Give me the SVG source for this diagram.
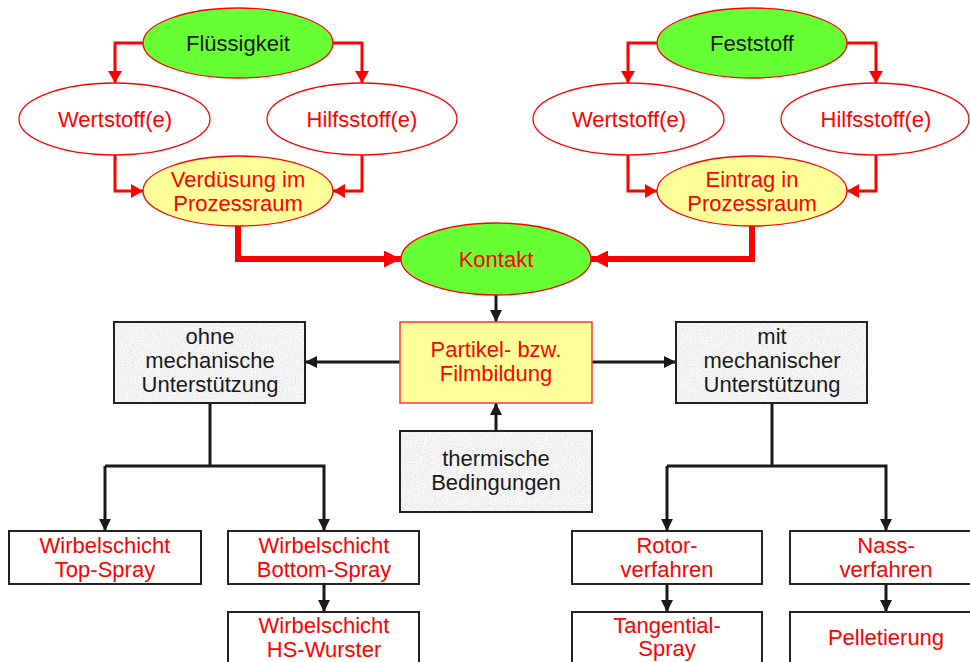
<svg xmlns="http://www.w3.org/2000/svg" width="970" height="662" viewBox="0 0 970 662">
  <style>
    text { font-family: "Liberation Sans", Arial, sans-serif; font-size: 22px; text-anchor: middle; }
    .red { fill: #ff0000; }
    .dark { fill: #1a1a1a; }
    .green { fill: #66ff33; stroke: #ff0000; stroke-width: 1.3; }
    .white { fill: #ffffff; stroke: #ff0000; stroke-width: 1.3; }
    .yellow { fill: #ffff99; stroke: #ff0000; stroke-width: 1.3; }
    .ybox { fill: #ffff99; stroke: #ff3333; stroke-width: 1.5; }
    .wbox { fill: #ffffff; stroke: #222222; stroke-width: 2; }
    .gbox { fill: #e6e6e6; filter: url(#granite); }
    .gedge { fill: none; stroke: #222222; stroke-width: 2; }
    .rl { fill: none; stroke: #ff0000; stroke-width: 3; marker-end: url(#arRed); }
    .rt { fill: none; stroke: #ff0000; stroke-width: 6; marker-end: url(#arRedBig); }
    .bl { fill: none; stroke: #1a1a1a; stroke-width: 3; }
    .ba { marker-end: url(#arBlack); }
  </style>
  <defs>
    <filter id="granite" x="0" y="0" width="100%" height="100%">
      <feTurbulence type="fractalNoise" baseFrequency="0.9" numOctaves="3" seed="4" result="n"/>
      <feColorMatrix in="n" type="matrix" values="0.35 0 0 0 0.72  0.35 0 0 0 0.72  0.35 0 0 0 0.72  0 0 0 0 1" result="g"/>
      <feComposite in="g" in2="SourceGraphic" operator="in"/>
    </filter>
    <marker id="arRed" markerUnits="userSpaceOnUse" markerWidth="12" markerHeight="14" refX="12" refY="7" orient="auto">
      <path d="M0,0 L12,7 L0,14 z" fill="#ff0000"/>
    </marker>
    <marker id="arRedBig" markerUnits="userSpaceOnUse" markerWidth="17" markerHeight="17" refX="17" refY="8.5" orient="auto">
      <path d="M0,0 L17,8.5 L0,17 z" fill="#ff0000"/>
    </marker>
    <marker id="arBlack" markerUnits="userSpaceOnUse" markerWidth="12" markerHeight="12" refX="12" refY="6" orient="auto">
      <path d="M0,0 L12,6 L0,12 z" fill="#1a1a1a"/>
    </marker>
  </defs>

  <!-- connectors -->
  <g id="connectors">
    <!-- liquid branch -->
    <path class="rl" d="M143,43 H115 V83"/>
    <path class="rl" d="M333,43 H362 V83"/>
    <path class="rl" d="M115,155 V191 H143"/>
    <path class="rl" d="M362,155 V191 H333"/>
    <!-- solid branch -->
    <path class="rl" d="M657,43 H628 V83"/>
    <path class="rl" d="M847,43 H876 V83"/>
    <path class="rl" d="M628,155 V191 H657"/>
    <path class="rl" d="M876,155 V191 H847"/>
    <!-- into contact -->
    <path class="rt" d="M238,226 V259 H401"/>
    <path class="rt" d="M752,226 V259 H591"/>
    <!-- black tree -->
    <path class="bl ba" d="M496,295 V322"/>
    <path class="bl ba" d="M400,362 H305"/>
    <path class="bl ba" d="M592,362 H676"/>
    <path class="bl ba" d="M496,431 V403"/>
    <path class="bl" d="M210,403 V466"/>
    <path class="bl ba" d="M105,466 H324 V531"/>
    <path class="bl ba" d="M105,466 V531"/>
    <path class="bl ba" d="M324,584 V612"/>
    <path class="bl" d="M772,403 V466"/>
    <path class="bl ba" d="M667,466 H886 V531"/>
    <path class="bl ba" d="M667,466 V531"/>
    <path class="bl ba" d="M667,584 V612"/>
    <path class="bl ba" d="M886,584 V612"/>
  </g>

  <!-- top left cluster -->
  <g id="fluessigkeit">
    <ellipse class="green" cx="238" cy="43" rx="95" ry="35"/>
    <text class="dark" x="238" y="51">Flüssigkeit</text>
  </g>
  <g id="wertstoff-l">
    <ellipse class="white" cx="114.5" cy="119" rx="95.5" ry="36"/>
    <text class="red" x="115" y="127">Wertstoff(e)</text>
  </g>
  <g id="hilfsstoff-l">
    <ellipse class="white" cx="362" cy="119" rx="95" ry="36"/>
    <text class="red" x="362" y="127">Hilfsstoff(e)</text>
  </g>
  <g id="verduesung">
    <ellipse class="yellow" cx="238" cy="191" rx="95" ry="35"/>
    <text class="red" x="238" y="187">Verdüsung im</text>
    <text class="red" x="238" y="211">Prozessraum</text>
  </g>

  <!-- top right cluster -->
  <g id="feststoff">
    <ellipse class="green" cx="752" cy="43" rx="95" ry="35"/>
    <text class="dark" x="752" y="51">Feststoff</text>
  </g>
  <g id="wertstoff-r">
    <ellipse class="white" cx="628.5" cy="119" rx="95.5" ry="36"/>
    <text class="red" x="629" y="127">Wertstoff(e)</text>
  </g>
  <g id="hilfsstoff-r">
    <ellipse class="white" cx="875" cy="119" rx="94" ry="36"/>
    <text class="red" x="876" y="127">Hilfsstoff(e)</text>
  </g>
  <g id="eintrag">
    <ellipse class="yellow" cx="752" cy="191" rx="95" ry="35"/>
    <text class="red" x="752" y="187">Eintrag in</text>
    <text class="red" x="752" y="211">Prozessraum</text>
  </g>

  <!-- contact -->
  <g id="kontakt">
    <ellipse class="green" cx="496" cy="259" rx="95" ry="36"/>
    <text class="red" x="496" y="267">Kontakt</text>
  </g>

  <!-- middle row -->
  <g id="partikel">
    <rect class="ybox" x="400" y="322" width="192" height="81"/>
    <text class="red" x="496" y="357">Partikel- bzw.</text>
    <text class="red" x="496" y="381">Filmbildung</text>
  </g>
  <g id="ohne">
    <rect class="gbox" x="114" y="322" width="191" height="81"/>
    <rect class="gedge" x="114" y="322" width="191" height="81"/>
    <text class="dark" x="210" y="344">ohne</text>
    <text class="dark" x="210" y="368">mechanische</text>
    <text class="dark" x="210" y="392">Unterstützung</text>
  </g>
  <g id="mit">
    <rect class="gbox" x="676" y="322" width="191" height="81"/>
    <rect class="gedge" x="676" y="322" width="191" height="81"/>
    <text class="dark" x="772" y="344">mit</text>
    <text class="dark" x="772" y="368">mechanischer</text>
    <text class="dark" x="772" y="392">Unterstützung</text>
  </g>
  <g id="thermisch">
    <rect class="gbox" x="400" y="431" width="192" height="81"/>
    <rect class="gedge" x="400" y="431" width="192" height="81"/>
    <text class="dark" x="496" y="466">thermische</text>
    <text class="dark" x="496" y="490">Bedingungen</text>
  </g>

  <!-- bottom left -->
  <g id="top-spray">
    <rect class="wbox" x="9" y="531" width="192" height="53"/>
    <text class="red" x="105" y="553">Wirbelschicht</text>
    <text class="red" x="105" y="577">Top-Spray</text>
  </g>
  <g id="bottom-spray">
    <rect class="wbox" x="228" y="531" width="191" height="53"/>
    <text class="red" x="324" y="553">Wirbelschicht</text>
    <text class="red" x="324" y="577">Bottom-Spray</text>
  </g>
  <g id="hs-wurster">
    <rect class="wbox" x="228" y="612" width="191" height="60"/>
    <text class="red" x="324" y="633">Wirbelschicht</text>
    <text class="red" x="324" y="657">HS-Wurster</text>
  </g>

  <!-- bottom right -->
  <g id="rotor">
    <rect class="wbox" x="572" y="531" width="190" height="53"/>
    <text class="red" x="667" y="553">Rotor-</text>
    <text class="red" x="667" y="577">verfahren</text>
  </g>
  <g id="nass">
    <rect class="wbox" x="790" y="531" width="192" height="53"/>
    <text class="red" x="886" y="553">Nass-</text>
    <text class="red" x="886" y="577">verfahren</text>
  </g>
  <g id="tangential">
    <rect class="wbox" x="572" y="612" width="190" height="60"/>
    <text class="red" x="667" y="633">Tangential-</text>
    <text class="red" x="667" y="656">Spray</text>
  </g>
  <g id="pelletierung">
    <rect class="wbox" x="790" y="612" width="192" height="60"/>
    <text class="red" x="886" y="645">Pelletierung</text>
  </g>
</svg>
